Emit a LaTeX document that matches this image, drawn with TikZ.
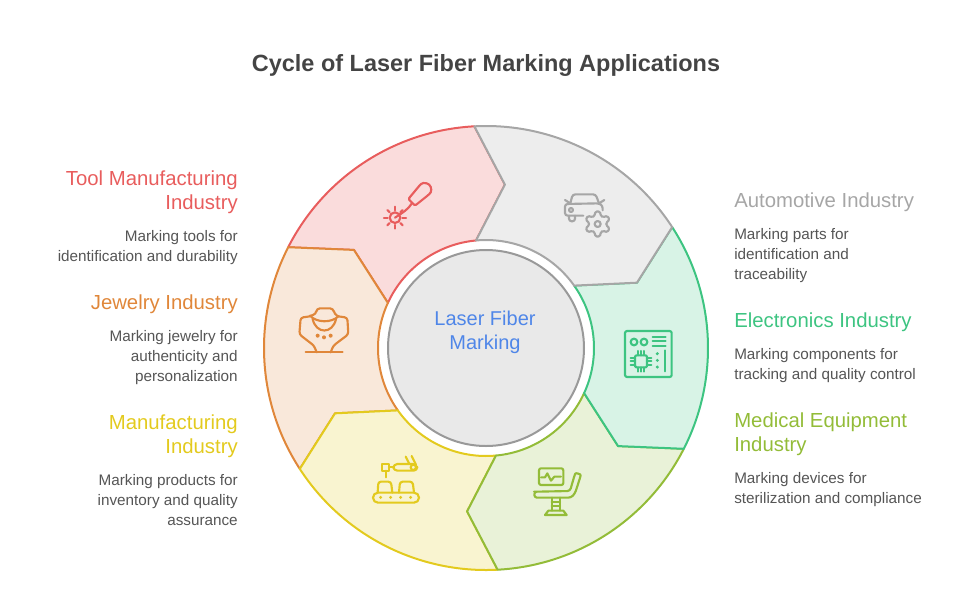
\documentclass[tikz,border=0pt]{standalone}
\usepackage{fontspec}
\setmainfont{Liberation Sans}
\definecolor{toolred}{HTML}{E85D5D}
\definecolor{toolfill}{HTML}{FADCDC}
\definecolor{autogray}{HTML}{A6A6A6}
\definecolor{autofill}{HTML}{EDEDED}
\definecolor{elecgreen}{HTML}{3DC481}
\definecolor{elecfill}{HTML}{D8F3E6}
\definecolor{medolive}{HTML}{93BC38}
\definecolor{medfill}{HTML}{E9F2D8}
\definecolor{manuyellow}{HTML}{E3CA1E}
\definecolor{manufill}{HTML}{F9F4D0}
\definecolor{jeworange}{HTML}{E0873A}
\definecolor{jewfill}{HTML}{F9E8DA}
\definecolor{hubblue}{HTML}{4F86E8}
\definecolor{hubfill}{HTML}{E9E9E9}
\definecolor{hubgray}{HTML}{999999}
\definecolor{titlegray}{HTML}{444444}
\definecolor{bodygray}{HTML}{555555}
\tikzset{
  segment/.style={line width=1.5pt, line join=round},
  icon/.style={line width=1.6pt, line join=round, line cap=round},
  headtext/.style={inner sep=0pt, font=\fontsize{15.25}{18}\selectfont},
  bodytext/.style={inner sep=0pt, text=bodygray, font=\fontsize{11.45}{15}\selectfont},
  leftside/.style={anchor=east, align=right},
  rightside/.style={anchor=west, align=left}
}

\begin{document}
\begin{tikzpicture}[x=0.75pt, y=-0.75pt]
  \useasboundingbox (0,0) rectangle (972,601);

  \node[font=\fontsize{17.6}{22}\selectfont\bfseries, text=titlegray] (title) at (486,65) {Cycle of Laser Fiber Marking Applications};

  \begin{scope}[shift={(486,348)}]
    \draw[segment, draw=toolred, fill=toolfill] (207:222) arc[start angle=207, end angle=267, radius=222] -- (276.6:164.5) -- (264.7:108) arc[start angle=264.7, end angle=204.7, radius=108] -- (216.6:164.5) -- cycle;
    \draw[segment, draw=jeworange, fill=jewfill] (147:222) arc[start angle=147, end angle=207, radius=222] -- (216.6:164.5) -- (204.7:108) arc[start angle=204.7, end angle=144.7, radius=108] -- (156.6:164.5) -- cycle;
    \draw[segment, draw=manuyellow, fill=manufill] (87:222) arc[start angle=87, end angle=147, radius=222] -- (156.6:164.5) -- (144.7:108) arc[start angle=144.7, end angle=84.7, radius=108] -- (96.6:164.5) -- cycle;
    \draw[segment, draw=medolive, fill=medfill] (27:222) arc[start angle=27, end angle=87, radius=222] -- (96.6:164.5) -- (84.7:108) arc[start angle=84.7, end angle=24.7, radius=108] -- (36.6:164.5) -- cycle;
    \draw[segment, draw=elecgreen, fill=elecfill] (-33:222) arc[start angle=-33, end angle=27, radius=222] -- (36.6:164.5) -- (24.7:108) arc[start angle=24.7, end angle=-35.3, radius=108] -- (-23.4:164.5) -- cycle;
    \draw[segment, draw=autogray, fill=autofill] (-93:222) arc[start angle=-93, end angle=-33, radius=222] -- (-23.4:164.5) -- (-35.3:108) arc[start angle=-35.3, end angle=-95.3, radius=108] -- (-83.4:164.5) -- cycle;
    \draw[segment, draw=hubgray, fill=hubfill] (0,0) circle[radius=98];
  \end{scope}

  \node[font=\fontsize{15}{18}\selectfont, text=hubblue, align=center] (hub) at (485,332) {Laser Fiber\\Marking};

  \begin{scope}[shift={(375,175)}, scale=1/3, icon, draw=toolred]
    \draw[rounded corners=1pt] (100,72) -- (135,30) .. controls (145,20) and (165,25) .. (168,40) .. controls (170,50) and (165,55) .. (160,60) -- (120,92) -- cycle;
    \draw (110,86) .. controls (100,102) and (85,112) .. (60,128);
    \draw (60,128) circle[radius=16];
    \draw (60,95) -- (60,106);
    \draw (60,150) -- (60,161);
    \draw (27,128) -- (38,128);
    \draw (82,128) -- (93,128);
    \draw (37,105) -- (44,112);
    \draw (76,144) -- (83,151);
    \draw (37,151) -- (44,144);
    \draw (76,112) -- (83,105);
  \end{scope}

  \begin{scope}[shift={(555,185)}, scale=1/3, icon, draw=autogray]
    \draw[rounded corners=2pt] (46,55) -- (53,28) -- (122,28) -- (132,55);
    \draw[rounded corners=2pt] (85,92) -- (30,92) -- (30,57) -- (132,55) -- (143,62) -- (143,76);
    \draw (30,45) -- (46,55);
    \draw (148,45) -- (132,55);
    \draw (48,75) circle[radius=6];
    \draw[rounded corners=2pt] (42,92) -- (42,109) -- (60,109) -- (60,92);
    \draw[rounded corners=1pt, shift={(128,117)}] (-100:38) -- (-80:38) -- (-68:26) -- (-52:26) -- (-40:38) -- (-20:38) -- (-8:26) -- (8:26) -- (20:38) -- (40:38) -- (52:26) -- (68:26) -- (80:38) -- (100:38) -- (112:26) -- (128:26) -- (140:38) -- (160:38) -- (172:26) -- (188:26) -- (200:38) -- (220:38) -- (232:26) -- (248:26) -- cycle;
    \draw (128,117) circle[radius=9];
  \end{scope}

  \begin{scope}[shift={(615,322)}, scale=1/3, icon, draw=elecgreen]
    \draw[rounded corners=1.5pt] (30,27) rectangle (170,165);
    \draw (57,60) circle[radius=10];
    \draw (87,60) circle[radius=10];
    \draw (113,45) -- (152,45);
    \draw (113,58) -- (152,58);
    \draw (113,71) -- (152,71);
    \draw[rounded corners=1pt] (60,100) rectangle (96,136);
    \draw (68,87) -- (68,100);
    \draw (78,87) -- (78,100);
    \draw (88,87) -- (88,100);
    \draw (68,136) -- (68,149);
    \draw (78,136) -- (78,149);
    \draw (88,136) -- (88,149);
    \draw (47,108) -- (60,108);
    \draw (47,118) -- (60,118);
    \draw (47,128) -- (60,128);
    \draw (96,108) -- (109,108);
    \draw (96,118) -- (109,118);
    \draw (96,128) -- (109,128);
    \fill[elecgreen] (127,95) circle[radius=5];
    \fill[elecgreen] (127,115) circle[radius=5];
    \fill[elecgreen] (127,135) circle[radius=5];
    \draw (150,85) -- (150,148);
  \end{scope}

  \begin{scope}[shift={(525,460)}, scale=1/3, icon, draw=medolive]
    \draw[rounded corners=1.5pt] (42,25) rectangle (115,75);
    \draw (48,52) -- (60,52) -- (67,40) -- (78,62) -- (88,50) -- (108,50);
    \draw[rounded corners=2pt] (35,95) -- (135,93) -- (148,48) .. controls (152,38) and (168,42) .. (165,54) -- (150,100) -- (138,113) -- (28,113) -- (28,95) -- cycle;
    \draw (80,113) -- (80,152);
    \draw (105,113) -- (105,152);
    \draw (80,126) -- (105,126);
    \draw (80,139) -- (105,139);
    \draw (70,152) -- (115,152) -- (125,165) -- (60,165) -- cycle;
  \end{scope}

  \begin{scope}[shift={(365,450)}, scale=1/3, icon, draw=manuyellow]
    \draw (52,42) rectangle (72,62);
    \draw (62,62) -- (62,82);
    \draw (72,52) -- (85,52);
    \draw[rounded corners=3pt] (85,42) -- (155,42) -- (158,62) -- (85,62) -- cycle;
    \draw (145,52) circle[radius=8];
    \draw (122,20) -- (133,42);
    \draw (140,18) -- (153,44);
    \draw[rounded corners=2pt] (38,128) -- (40,95) -- (78,95) -- (82,128);
    \draw[rounded corners=2pt] (102,128) -- (105,95) -- (143,95) -- (147,128);
    \draw[rounded corners=3.7pt] (24,128) rectangle (162,158);
    \fill[manuyellow] (47,142) circle[radius=5];
    \fill[manuyellow] (77,142) circle[radius=5];
    \fill[manuyellow] (107,142) circle[radius=5];
    \fill[manuyellow] (137,142) circle[radius=5];
  \end{scope}

  \begin{scope}[shift={(290,295)}, scale=1/3, icon, draw=jeworange]
    \draw[rounded corners=2pt] (60,64) -- (32,68) -- (28,118) -- (72,152) -- (80,172);
    \draw[rounded corners=2pt] (145,64) -- (172,68) -- (175,118) -- (130,152) -- (122,172);
    \draw[rounded corners=2.5pt] (62,62) -- (78,58) -- (80,40) -- (130,40) -- (133,58) -- (145,64);
    \draw (60,62) .. controls (80,84) and (125,84) .. (145,64);
    \draw (68,72) .. controls (78,118) and (128,118) .. (138,72);
    \draw (47,172) -- (158,172);
    \fill[jeworange] (83,122) circle[radius=6];
    \fill[jeworange] (102,127) circle[radius=6];
    \fill[jeworange] (122,122) circle[radius=6];
  \end{scope}

  \node[headtext, leftside, text=toolred] (toolhead) at (238,192) {Tool Manufacturing\\Industry};
  \node[bodytext, leftside] (tooltext) at (238,248) {Marking tools for\\identification and durability};
  \node[headtext, leftside, text=jeworange] (jewhead) at (238,304) {Jewelry Industry};
  \node[bodytext, leftside] (jewtext) at (238,358) {Marking jewelry for\\authenticity and\\personalization};
  \node[headtext, leftside, text=manuyellow] (manuhead) at (238,436) {Manufacturing\\Industry};
  \node[bodytext, leftside] (manutext) at (238,500) {Marking products for\\inventory and quality\\assurance};

  \node[headtext, rightside, text=autogray] (autohead) at (734,202) {Automotive Industry};
  \node[bodytext, rightside] (autotext) at (734,256) {Marking parts for\\identification and\\traceability};
  \node[headtext, rightside, text=elecgreen] (elechead) at (734,322) {Electronics Industry};
  \node[bodytext, rightside] (electext) at (734,366) {Marking components for\\tracking and quality control};
  \node[headtext, rightside, text=medolive] (medhead) at (734,434) {Medical Equipment\\Industry};
  \node[bodytext, rightside] (medtext) at (734,490) {Marking devices for\\sterilization and compliance};
\end{tikzpicture}
\end{document}
